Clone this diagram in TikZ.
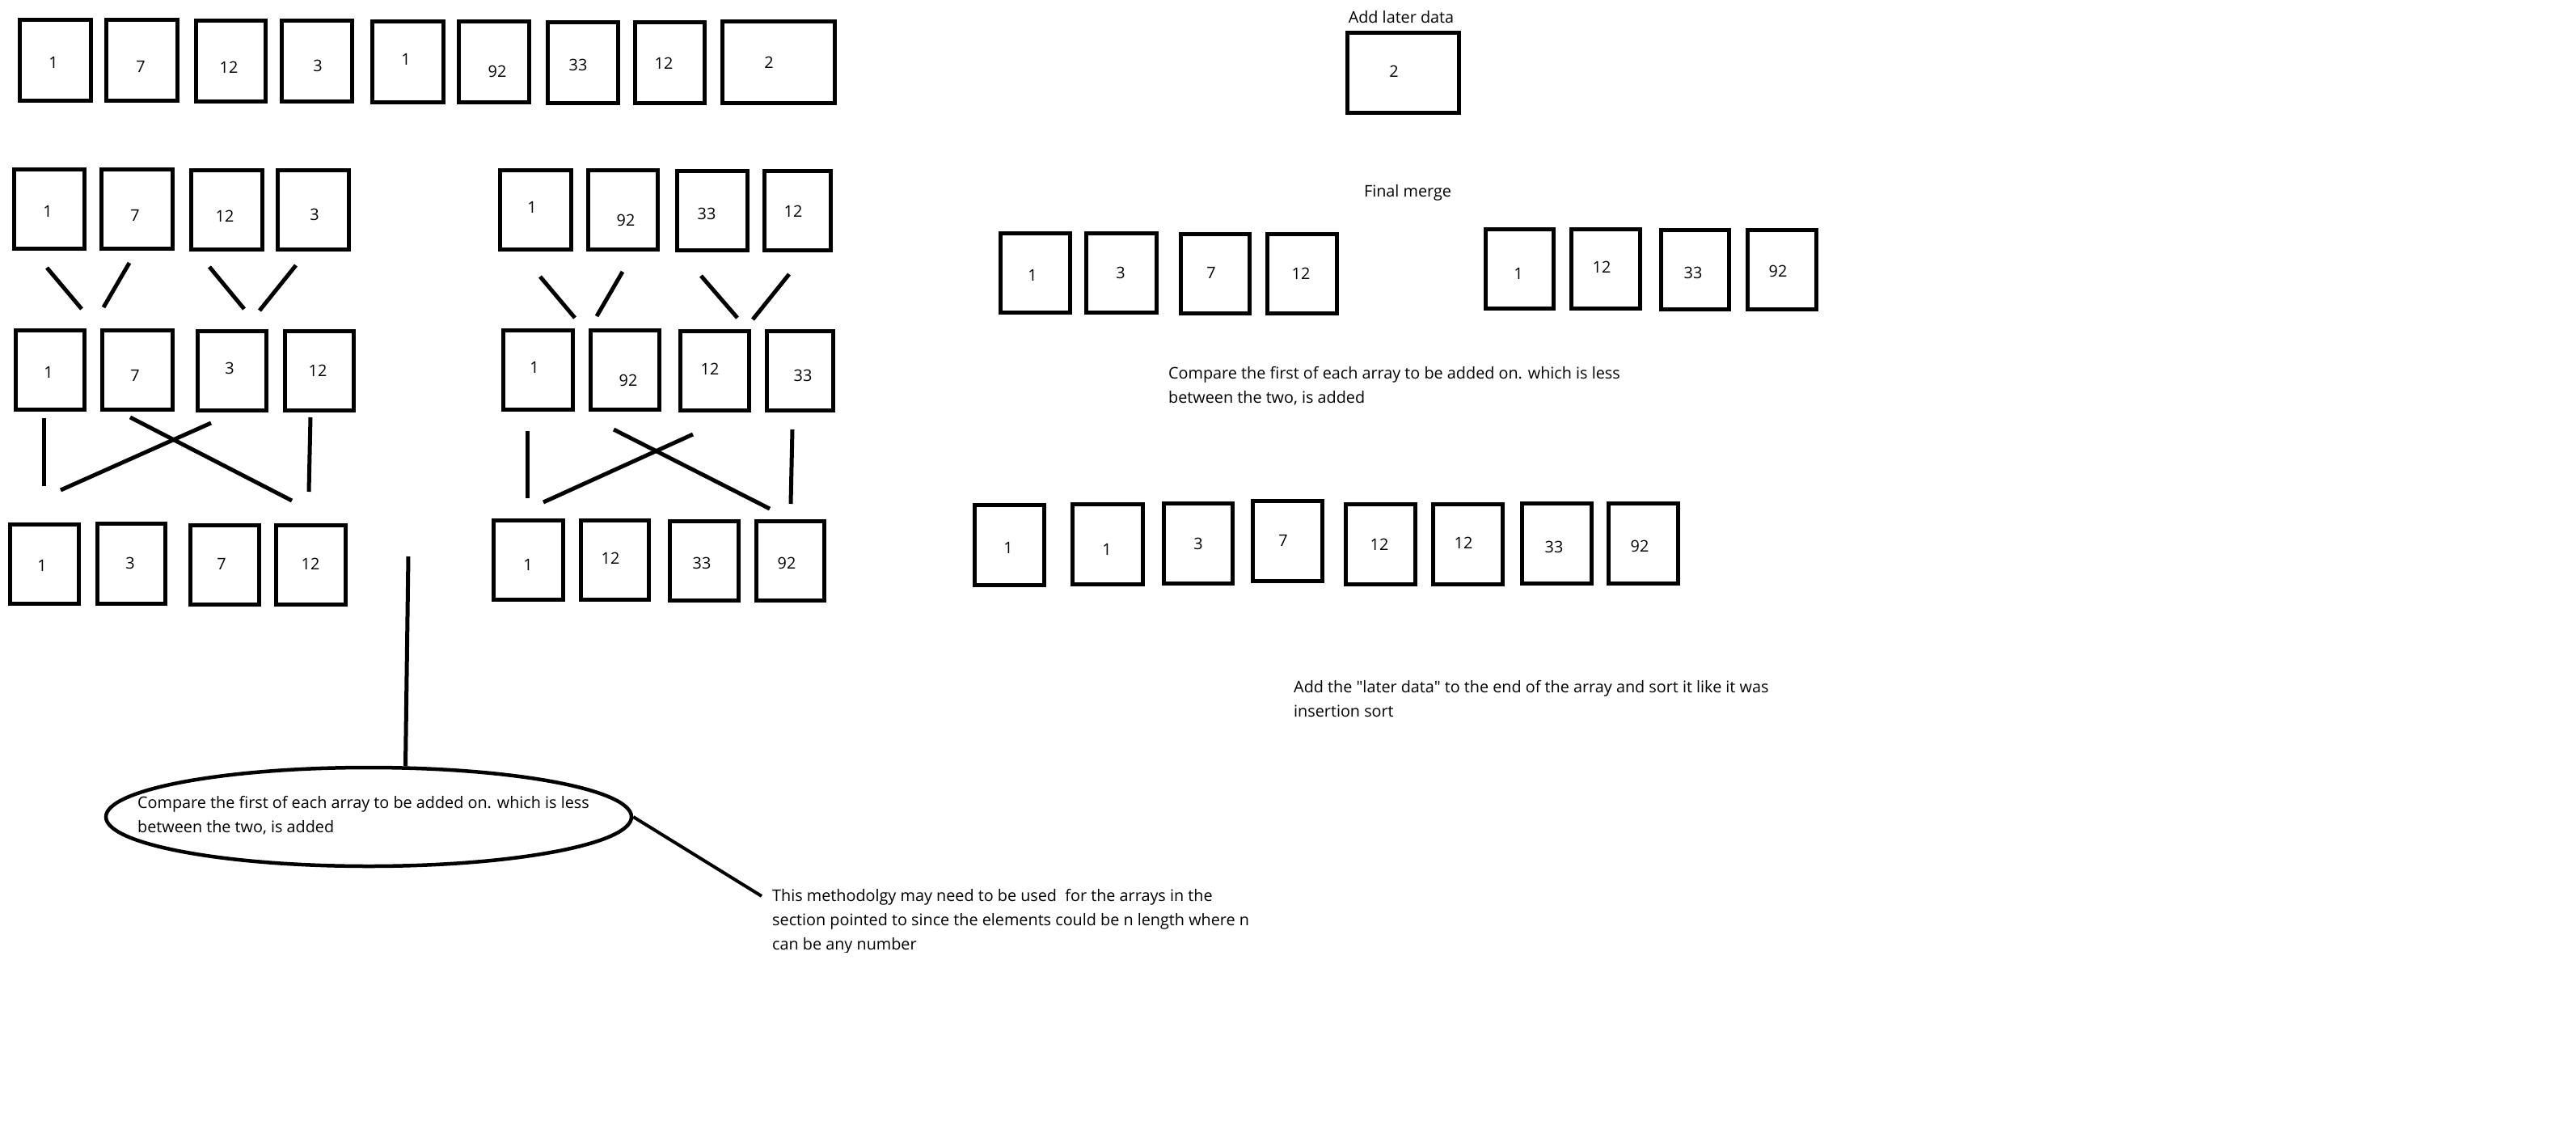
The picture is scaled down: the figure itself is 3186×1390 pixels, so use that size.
\documentclass[tikz,border=0pt]{standalone}
\usepackage{fontspec}
\setmainfont{Open Sans}[Ligatures=TeXOff]
\usetikzlibrary{shapes.geometric}

% one array element: box (name, left, top, right, bottom) and its value placed at (tx,ty)
\newcommand\arrcell[8]{%
  \node[cellbox, minimum width={(#4-#2-5)*1pt}, minimum height={(#5-#3-5)*1pt}]
    (#1) at ({(#2+#4)/2},{(#3+#5)/2}) {};
  \node[celltext] (#1t) at (#7,#8) {#6};
}

\tikzset{
  cellbox/.style={draw=black, line width=5pt, rectangle, inner sep=0pt},
  celltext/.style={inner sep=0pt, font=\fontsize{19.8}{28}\selectfont},
  stroke/.style={line width=5pt, line cap=butt},
  % base anchor of a multi-line note sits on its last line
  note/.style={inner sep=0pt, align=left, anchor=base west,
               font=\fontsize{19.8}{30}\selectfont},
}

\begin{document}
\begin{tikzpicture}[x=1pt, y=-1pt]
\fill[white] (0,0) rectangle (3186,1390);
\useasboundingbox (0,0) rectangle (3186,1390);

% ---- full input array ----
\arrcell{a1}{22}{22}{115}{127}{1}{66}{77}
\arrcell{a2}{129}{22}{222}{127}{7}{174}{82}
\arrcell{a3}{240}{23}{331}{128}{12}{283}{83}
\arrcell{a4}{346}{23}{438}{128}{3}{393}{81}
\arrcell{a5}{458}{24}{551}{129}{1}{502}{73}
\arrcell{a6}{565}{24}{657}{129}{92}{615}{88}
\arrcell{a7}{675}{25}{767}{130}{33}{715}{80}
\arrcell{a8}{783}{25}{874}{130}{12}{821}{78}
\arrcell{a9}{891}{24}{1035}{130}{2}{951}{77}

% ---- split halves ----
\arrcell{l1}{15}{207}{107}{310}{1}{59}{261}
\arrcell{l2}{123}{207}{216}{310}{7}{167}{266}
\arrcell{l3}{234}{208}{327}{311}{12}{278}{267}
\arrcell{l4}{341}{208}{434}{311}{3}{389}{265}

\arrcell{r1}{616}{208}{709}{311}{1}{658}{256}
\arrcell{r2}{725}{208}{816}{311}{92}{774}{272}
\arrcell{r3}{835}{209}{927}{312}{33}{874}{264}
\arrcell{r4}{943}{209}{1030}{312}{12}{981}{261}

% ---- sorted pairs ----
\arrcell{lp1}{17}{406}{107}{509}{1}{60}{460}
\arrcell{lp2}{124}{406}{216}{509}{7}{167}{464}
\arrcell{lp3}{242}{407}{332}{510}{3}{284}{455}
\arrcell{lp4}{350}{407}{440}{510}{12}{393}{458}

\arrcell{rp1}{620}{406}{711}{509}{1}{661}{454}
\arrcell{rp2}{728}{406}{818}{509}{92}{777}{470}
\arrcell{rp3}{839}{407}{929}{510}{12}{878}{456}
\arrcell{rp4}{946}{407}{1033}{510}{33}{993}{464}

% ---- merged halves ----
\arrcell{lm1}{10}{646}{100}{749}{1}{52}{699}
\arrcell{lm2}{118}{645}{207}{749}{3}{161}{696}
\arrcell{lm3}{233}{647}{323}{750}{7}{274}{697}
\arrcell{lm4}{339}{647}{430}{750}{12}{384}{697}

\arrcell{rm1}{608}{641}{699}{744}{1}{653}{698}
\arrcell{rm2}{716}{641}{805}{744}{12}{755}{690}
\arrcell{rm3}{826}{642}{916}{745}{33}{868}{696}
\arrcell{rm4}{933}{642}{1022}{745}{92}{973}{696}

% ---- strokes between the levels ----
\draw[stroke] (58,331) -- (101,382);
\draw[stroke] (160,325) -- (128,380);
\draw[stroke] (259,330) -- (302,382);
\draw[stroke] (366,328) -- (321,384);
\draw[stroke] (668,342) -- (711,393);
\draw[stroke] (770,336) -- (738,391);
\draw[stroke] (867,341) -- (912,393);
\draw[stroke] (976,339) -- (931,395);

\draw[stroke] (54,517) -- (54,601);
\draw[stroke] (261,523) -- (75,606);
\draw[stroke] (161,516) -- (361,619);
\draw[stroke] (384,516) -- (382,608);
\draw[stroke] (652,533) -- (652,616);
\draw[stroke] (857,537) -- (672,621);
\draw[stroke] (759,531) -- (952,629);
\draw[stroke] (980,531) -- (978,623);

% ---- callout ----
\node[draw, ellipse, line width=4.5pt, inner sep=0pt,
      minimum width=650pt, minimum height=122pt] (callout) at (456,1010) {};
\node[note] (callouttext) at (170,1029)
  {Compare the first of each array to be added on. which is less\\between the two, is added};
\coordinate (pointer) at (505,688);
\draw[stroke] (pointer) -- (callout.54);

\begin{scope}
  \clip (900,1080) rectangle (1800,1177);
  \node[note] (method) at (955,1174)
    {This methodolgy may need to be used\ \ for the arrays in the\\section pointed to since the elements could be n length where n\\can be any number};
\end{scope}
\draw[line width=4pt] (callout.east) -- (942,1108);

% ---- right side ----
\node[note, anchor=base] (latertitle) at (1733,28) {Add later data};
\arrcell{ld}{1664}{38}{1807}{142}{2}{1724}{88}

\node[note, anchor=base] (finaltitle) at (1741,243) {Final merge};
\arrcell{fl1}{1235}{286}{1326}{389}{1}{1277}{340}
\arrcell{fl2}{1341}{286}{1433}{389}{3}{1386}{337}
\arrcell{fl3}{1458}{287}{1548}{390}{7}{1498}{337}
\arrcell{fl4}{1565}{287}{1656}{390}{12}{1609}{338}

\arrcell{fr1}{1835}{281}{1924}{384}{1}{1878}{338}
\arrcell{fr2}{1941}{281}{2031}{384}{12}{1981}{330}
\arrcell{fr3}{2052}{282}{2141}{385}{33}{2094}{337}
\arrcell{fr4}{2159}{282}{2249}{385}{92}{2199}{335}

\node[note] (comparetext) at (1445,498)
  {Compare the first of each array to be added on. which is less\\between the two, is added};

\arrcell{s1}{1203}{622}{1294}{726}{1}{1247}{677}
\arrcell{s2}{1324}{621}{1416}{725}{1}{1369}{679}
\arrcell{s3}{1437}{620}{1527}{724}{3}{1482}{672}
\arrcell{s4}{1547}{617}{1638}{721}{7}{1587}{668}
\arrcell{s5}{1662}{621}{1753}{725}{12}{1706}{673}
\arrcell{s6}{1770}{621}{1861}{725}{12}{1810}{671}
\arrcell{s7}{1880}{620}{1971}{724}{33}{1922}{676}
\arrcell{s8}{1987}{620}{2078}{724}{92}{2028}{675}

\node[note] (insertiontext) at (1600,886)
  {Add the "later data" to the end of the array and sort it like it was\\insertion sort};
\end{tikzpicture}
\end{document}
